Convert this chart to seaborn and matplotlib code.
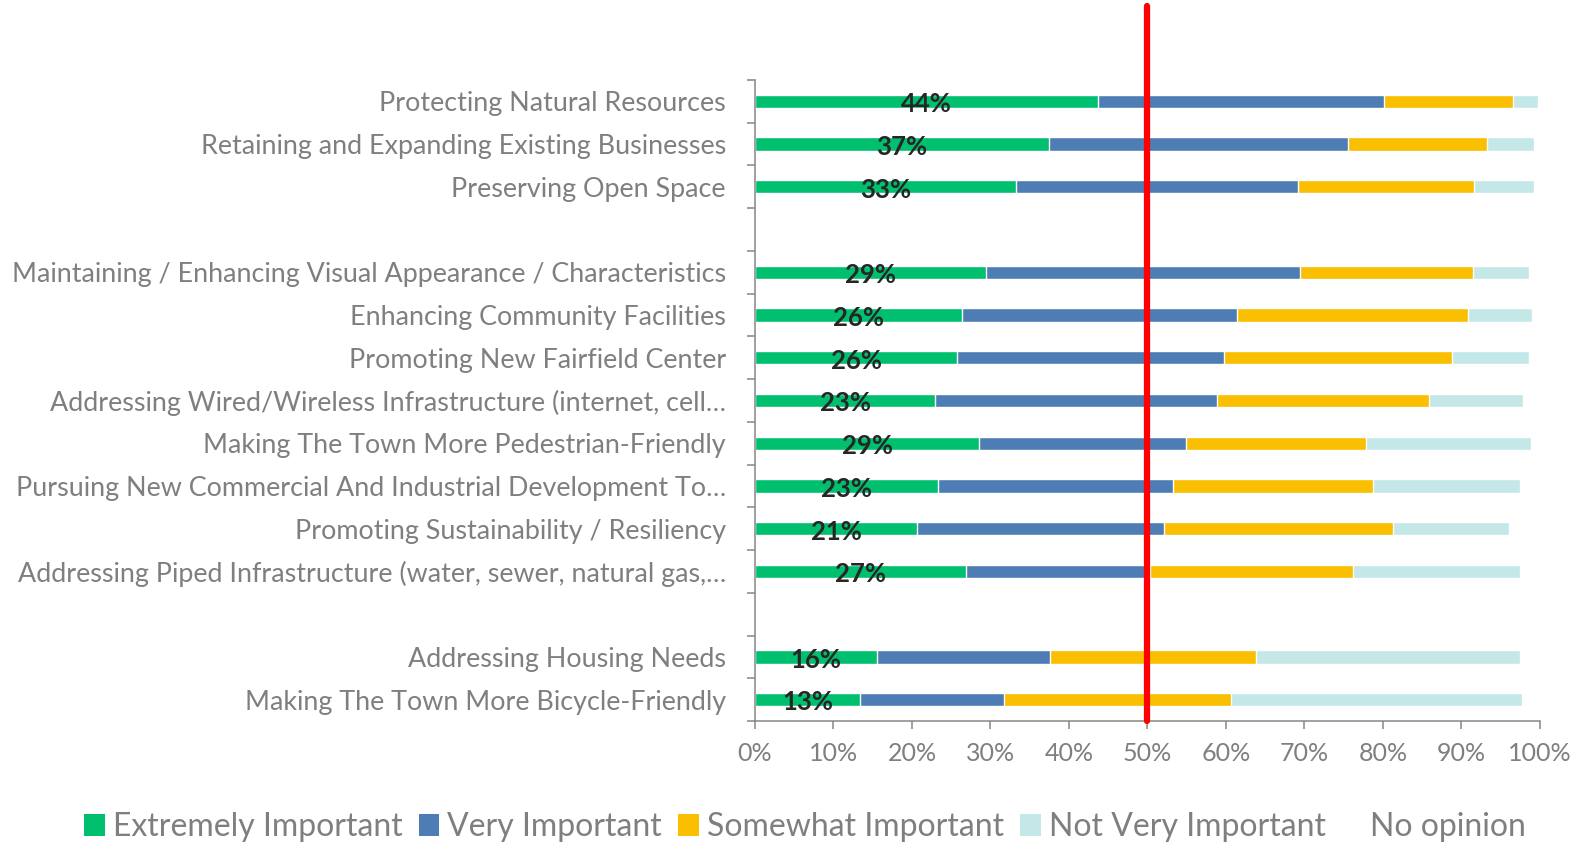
import pandas as pd
import numpy as np
import matplotlib
matplotlib.use('Agg')
import matplotlib.pyplot as plt
import matplotlib.ticker as mtick
from matplotlib.patches import Patch
import seaborn as sns

# Survey data (share of respondents)
categories = [
    'Protecting Natural Resources',
    'Retaining and Expanding Existing Businesses',
    'Preserving Open Space',
    'Maintaining / Enhancing Visual Appearance / Characteristics',
    'Enhancing Community Facilities',
    'Promoting New Fairfield Center',
    'Addressing Wired/Wireless Infrastructure (internet, cell…',
    'Making The Town More Pedestrian-Friendly',
    'Pursuing New Commercial And Industrial Development To…',
    'Promoting Sustainability / Resiliency',
    'Addressing Piped Infrastructure (water, sewer, natural gas,…',
    'Addressing Housing Needs',
    'Making The Town More Bicycle-Friendly',
]
extremely = [0.437, 0.374, 0.333, 0.294, 0.264, 0.258, 0.230, 0.286, 0.233, 0.207, 0.269, 0.156, 0.134]
very      = [0.364, 0.382, 0.359, 0.400, 0.350, 0.340, 0.358, 0.263, 0.299, 0.314, 0.234, 0.220, 0.183]
somewhat  = [0.164, 0.176, 0.224, 0.221, 0.294, 0.290, 0.271, 0.230, 0.255, 0.292, 0.259, 0.262, 0.289]
not_very  = [0.032, 0.060, 0.076, 0.071, 0.082, 0.098, 0.120, 0.209, 0.188, 0.147, 0.212, 0.337, 0.371]
no_opinion = [0.003, 0.008, 0.008, 0.014, 0.010, 0.014, 0.021, 0.012, 0.025, 0.040, 0.026, 0.025, 0.023]

# row order on the axis, blank names make the two gaps
order = categories[:3] + [' '] + categories[3:11] + ['  '] + categories[11:]

series = ['Extremely Important', 'Very Important', 'Somewhat Important',
          'Not Very Important', 'No opinion']
colors = ['#00BF6F', '#4E7DB6', '#F9BF00', '#C4E8E8', '#FFFFFF']

df = pd.DataFrame({'cat': categories,
                   series[0]: extremely, series[1]: very, series[2]: somewhat,
                   series[3]: not_very, series[4]: no_opinion})
cum = df[series].cumsum(axis=1)
cum['cat'] = df['cat']

sns.set_style('white')
plt.rcParams['font.family'] = ['Lato', 'DejaVu Sans']
grey = '#7F7F7F'

fig = plt.figure(figsize=(15.85, 8.44), dpi=100)
ax = fig.add_axes([0.4763, 0.1457, 0.4953, 0.7595])

# stacked bars: draw the running totals from the longest to the shortest
for s, c in zip(series[::-1], colors[::-1]):
    sns.barplot(data=cum, x=s, y='cat', order=order, color=c, saturation=1,
                width=0.31, errorbar=None, orient='h', ax=ax)

labels = ax.bar_label(ax.containers[-1], fmt='{:.0%}', label_type='center',
                      fontsize=18.5, fontweight='bold', color='#262626')
for t in labels:
    t.xyann = (0, -2)

ax.axvline(0.5, ymin=0, ymax=1 + 74 / 641, color='red', lw=4.5,
           clip_on=False, zorder=5)

ax.set_xlim(0, 1)
ax.set_ylim(len(order) - 0.5, -0.5)
ax.set_xticks(np.arange(0, 1.01, 0.1))
ax.xaxis.set_major_formatter(mtick.PercentFormatter(1.0, decimals=0))
ax.set_yticks(np.arange(-0.5, len(order)), minor=True)
ax.set_xlabel('')
ax.set_ylabel('')

ax.tick_params(axis='y', which='major', length=0, pad=21, labelsize=19.4, labelcolor=grey)
ax.tick_params(axis='y', which='minor', length=6, width=1.1, color='#868686', direction='out')
ax.tick_params(axis='x', which='major', length=6, width=1.1, color='#868686',
               direction='out', pad=9, labelsize=18, labelcolor=grey)
ax.tick_params(left=True, bottom=True, which='both')

for side in ['top', 'right']:
    ax.spines[side].set_visible(False)
for side in ['left', 'bottom']:
    ax.spines[side].set_color('#868686')
    ax.spines[side].set_linewidth(1.1)

handles = [Patch(facecolor=c, edgecolor='none') for c in colors]
fig.legend(handles, series, loc='center', bbox_to_anchor=(0.508, 0.02), ncol=5,
           frameon=False, fontsize=23, labelcolor=grey, handlelength=0.65,
           handleheight=0.65, handletextpad=0.25, columnspacing=0.5)

fig.savefig('out.png', dpi=100)
